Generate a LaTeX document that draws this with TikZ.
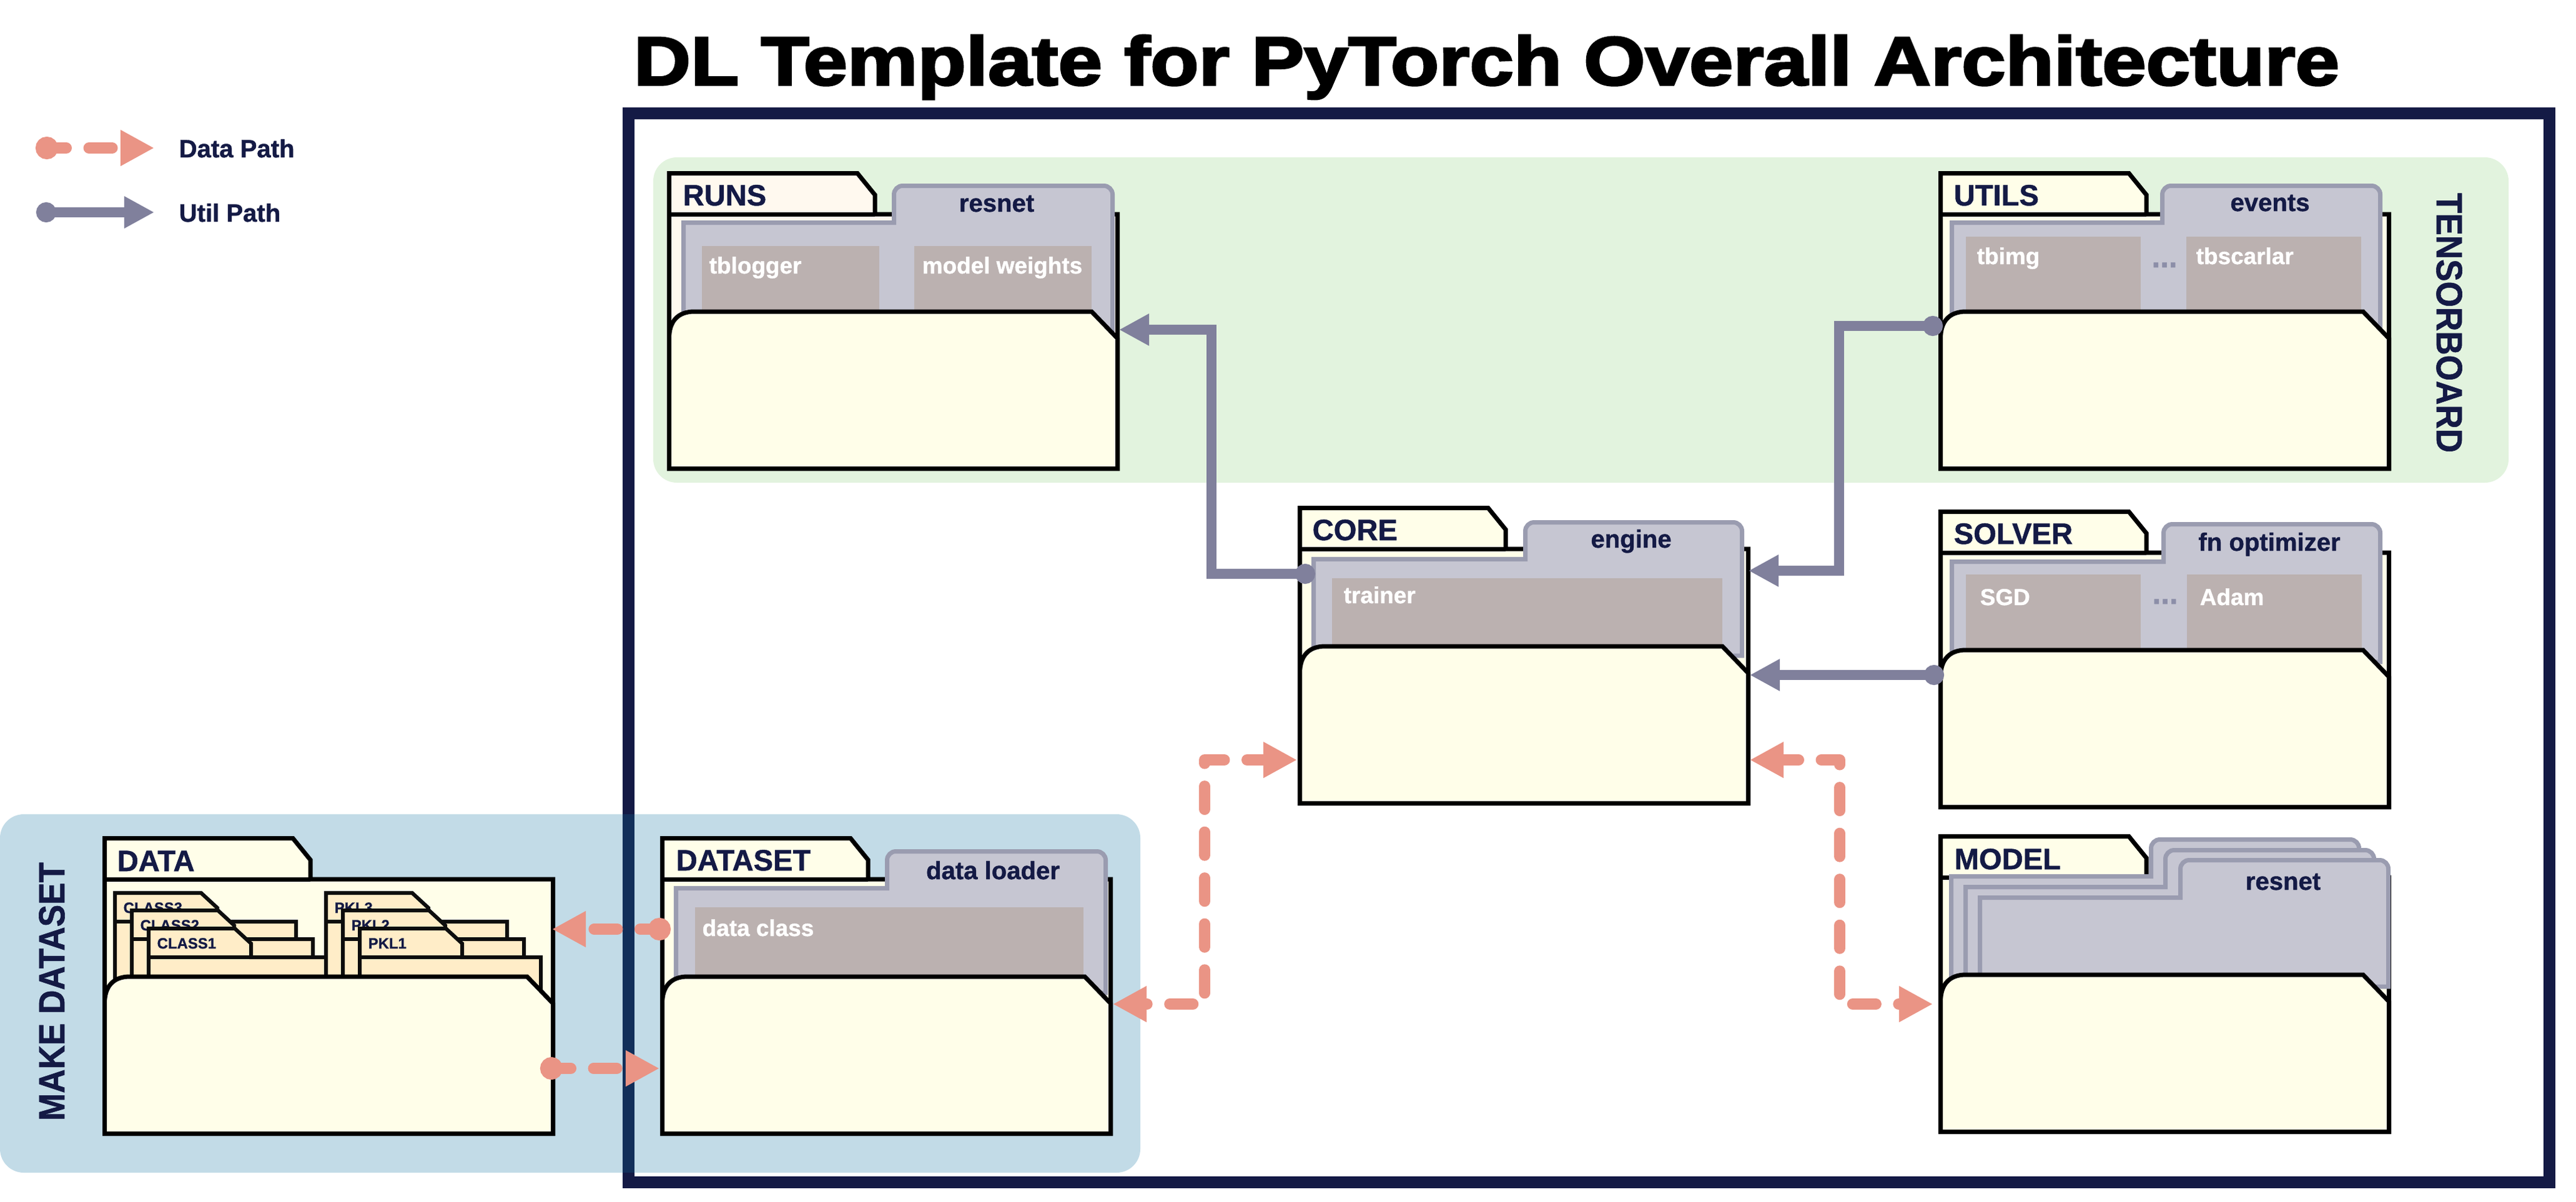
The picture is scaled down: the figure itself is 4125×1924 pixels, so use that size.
\documentclass[tikz,border=0pt]{standalone}
\usepackage{fontspec}
\setmainfont{Liberation Sans}[BoldFeatures={FakeBold=1}]
\newfontface\titlefont{Liberation Sans Bold}[FakeBold=3,FakeStretch=1.15]
\usetikzlibrary{arrows.meta}
\definecolor{navy}{HTML}{141A45}
\definecolor{navyover}{HTML}{122F5A}
\definecolor{paneblue}{HTML}{C2DBE7}
\definecolor{panegreen}{HTML}{E2F3DE}
\definecolor{pocketcol}{HTML}{FFFEE9}
\definecolor{runscol}{HTML}{FFF9EF}
\definecolor{subcol}{HTML}{FFEDC8}
\definecolor{sheetfill}{HTML}{C6C6D2}
\definecolor{sheetline}{HTML}{9A9CB0}
\definecolor{browncol}{HTML}{BBB1B0}
\definecolor{pinkcol}{HTML}{EA9485}
\definecolor{utilcol}{HTML}{80809C}
\definecolor{dotcol}{HTML}{8C8EA8}
\tikzset{
  folderline/.style={draw=black,line width=.07cm},
  sheet/.style={draw=sheetline,fill=sheetfill,line width=.07cm},
  brownbox/.style={fill=browncol},
  subline/.style={draw=black!95,fill=subcol,line width=.06cm},
  foldername/.style={anchor=base west,inner sep=0,text=navy,font=\fontsize{13.4}{16}\selectfont\bfseries},
  subname/.style={anchor=base west,inner sep=0,text=navy,font=\fontsize{6.8}{8}\selectfont\bfseries},
  sheetname/.style={anchor=base,inner sep=0,text=navy,font=\fontsize{11.4}{14}\selectfont\bfseries},
  itemname/.style={anchor=base west,inner sep=0,text=white,font=\fontsize{10.5}{13}\selectfont\bfseries},
  itemdots/.style={anchor=base,inner sep=0,text=dotcol,font=\fontsize{14}{16}\selectfont\bfseries},
  sidename/.style={inner sep=0,text=navy,xscale=1.1,font=\fontsize{15.1}{18}\selectfont\bfseries},
  legendname/.style={anchor=base west,inner sep=0,text=navy,font=\fontsize{11.4}{14}\selectfont\bfseries},
  utilpath/.style={draw=utilcol,line width=.16cm},
  datapath/.style={draw=pinkcol,line width=.18cm,line cap=round,line join=round,dash pattern=on .37cm off .365cm},
  utilboth/.style={{Circle[length=.32cm]}-{Triangle[length=.48cm,width=.48cm]}},
  databoth/.style={{Circle[length=.36cm]}-{Triangle[length=.54cm,width=.54cm]},dash phase=.15cm},
  datatwin/.style={{Triangle[length=.54cm,width=.54cm]}-{Triangle[length=.54cm,width=.54cm]},dash phase=.33cm},
}
\newcommand{\folderback}[3]{
\begin{scope}[shift={(#1,#2)}]
\draw[folderline,fill=#3](3.5,69)--(3.5,3.5)--(305,3.5)--(333,38)--(333,69)--(721.5,69)--(721.5,476.5)--(3.5,476.5)--cycle;
\draw[folderline](3.5,69)--(333,69);
\end{scope}}
\newcommand{\folderfront}[2]{
\begin{scope}[shift={(#1,#2)}]
\draw[folderline,fill=pocketcol](3.5,476.5)--(3.5,268)..controls(3.5,240)and(18,225)..(44,225)--(680,225)--(721.5,268)--(721.5,476.5)--cycle;
\end{scope}}
\newcommand{\sheetpage}[6]{
\draw[sheet](#1,#6)--(#1,#2)--(#3,#2)[rounded corners=.14cm]--(#3,#4)--(#5,#4)[sharp corners]--(#5,#6)--cycle;}
\newcommand{\subfolder}[4]{
\begin{scope}[shift={(#1,#2)}]
\draw[subline](3,170)--(3,3)--(141,3)--(167,27)--(167,49)--(293,49)--(293,170)--cycle;
\draw[subline](3,49)--(167,49);
\node[subname](#3)at(16,35){#4};
\end{scope}}
\begin{document}
\begin{tikzpicture}[x=.01cm,y=-.01cm]
\useasboundingbox(0,0)rectangle(4125,1924);
\fill[panegreen,rounded corners=.38cm](1046,252)rectangle(4017,773);
\fill[paneblue,rounded corners=.38cm](0,1304)rectangle(1826,1878);
\draw[navy,line width=.19cm](1006.5,181.5)rectangle(4082.5,1893.5);
\fill[navyover](997,1304)rectangle(1016,1878);
\node[anchor=base west,inner sep=0,font=\fontsize{31.3}{36}\titlefont](title)at(1014,136){DL Template for PyTorch Overall Architecture};
\node[sidename,rotate=90](makedataset)at(83,1588){MAKE DATASET};
\node[sidename,rotate=-90](tensorboard)at(3922,517){TENSORBOARD};
\folderback{1068}{274}{runscol}
\sheetpage{1094.5}{356.5}{1431.5}{297.5}{1781.5}{530}
\fill[brownbox](1124,394)rectangle(1408,510);
\fill[brownbox](1464,394)rectangle(1748,510);
\folderfront{1068}{274}
\node[foldername](runsname)at(1093,329){RUNS};
\node[sheetname](runssheet)at(1596,339){resnet};
\node[itemname](tblogger)at(1135,438){tblogger};
\node[itemname](weights)at(1476,438){model weights};
\folderback{3104}{274}{pocketcol}
\sheetpage{3125.5}{356.5}{3462.5}{297.5}{3811.5}{530}
\fill[brownbox](3148,379)rectangle(3428,510);
\fill[brownbox](3501,379)rectangle(3781,510);
\folderfront{3104}{274}
\node[foldername](utilsname)at(3128,329){UTILS};
\node[sheetname](utilssheet)at(3635,338){events};
\node[itemname](tbimg)at(3165,423){tbimg};
\node[itemname](tbscarlar)at(3516,423){tbscarlar};
\node[itemdots](utilsdots)at(3466,428){...};
\folderback{2078}{810}{pocketcol}
\sheetpage{2103.5}{895.5}{2442.5}{836.5}{2789.5}{1050}
\fill[brownbox](2133,926)rectangle(2758,1045);
\folderfront{2078}{810}
\node[foldername](corename)at(2101,865){CORE};
\node[sheetname](coresheet)at(2612,877){engine};
\node[itemname](trainer)at(2151,966){trainer};
\folderback{3104}{816}{pocketcol}
\sheetpage{3125.5}{899.5}{3464.5}{839.5}{3811.5}{1060}
\fill[brownbox](3148,920)rectangle(3428,1050);
\fill[brownbox](3502,920)rectangle(3782,1050);
\folderfront{3104}{816}
\node[foldername](solvername)at(3128,871){SOLVER};
\node[sheetname](solversheet)at(3634,882){fn optimizer};
\node[itemname](sgd)at(3170,969){SGD};
\node[itemname](adam)at(3522,969){Adam};
\node[itemdots](solverdots)at(3467,967){...};
\folderback{3104}{1336}{pocketcol}
\sheetpage{3124.5}{1403.5}{3444.5}{1344.5}{3777.5}{1580}
\sheetpage{3147.5}{1420.5}{3467.5}{1361.5}{3801.5}{1580}
\sheetpage{3170.5}{1437.5}{3491.5}{1377.5}{3824.5}{1580}
\folderfront{3104}{1336}
\node[foldername](modelname)at(3129,1392){MODEL};
\node[sheetname](modelsheet)at(3656,1425){resnet};
\folderback{1057}{1339}{pocketcol}
\sheetpage{1082.5}{1422.5}{1420.5}{1363.5}{1770.5}{1590}
\fill[brownbox](1113,1453)rectangle(1735,1575);
\folderfront{1057}{1339}
\node[foldername](datasetname)at(1082,1394){DATASET};
\node[sheetname](datasetsheet)at(1590,1408){data loader};
\node[itemname](dataclass)at(1124,1499){data class};
\folderback{164}{1339}{pocketcol}
\subfolder{181}{1427}{classc}{CLASS3}
\subfolder{208}{1455}{classb}{CLASS2}
\subfolder{235}{1484}{classa}{CLASS1}
\subfolder{519}{1427}{pklc}{PKL3}
\subfolder{546}{1455}{pklb}{PKL2}
\subfolder{573}{1484}{pkla}{PKL1}
\folderfront{164}{1339}
\node[foldername](dataname)at(187,1395){DATA};
\coordinate(legdatastart)at(57,237);
\coordinate(legdataend)at(247,237);
\coordinate(legutilstart)at(58,340);
\coordinate(legutilend)at(247,340);
\draw[datapath,databoth](legdatastart)--(legdataend);
\draw[utilpath,utilboth](legutilstart)--(legutilend);
\node[legendname](legdata)at(286,252){Data Path};
\node[legendname](legutil)at(286,355){Util Path};
\coordinate(coreout)at(2106,919);
\coordinate(runsin)at(1792,528);
\coordinate(runsbend)at(1940,528);
\draw[utilpath,utilboth](coreout)-|(runsbend)--(runsin);
\coordinate(utilsout)at(3111,522);
\coordinate(corein)at(2800,914);
\coordinate(utilsbend)at(2945,914);
\draw[utilpath,utilboth](utilsout)-|(utilsbend)--(corein);
\coordinate(solverout)at(3113,1081);
\coordinate(coreinb)at(2802,1081);
\draw[utilpath,utilboth](solverout)--(coreinb);
\coordinate(datasetout)at(1074,1488);
\coordinate(datain)at(884,1488);
\draw[datapath,databoth](datasetout)--(datain);
\coordinate(dataout)at(865,1711);
\coordinate(datasetin)at(1056,1711);
\draw[datapath,databoth](dataout)--(datasetin);
\coordinate(datasetport)at(1782,1608);
\coordinate(coreleft)at(2077,1217);
\coordinate(leftbend)at(1929,1217);
\draw[datapath,datatwin](datasetport)-|(leftbend)--(coreleft);
\coordinate(modelport)at(3095,1608);
\coordinate(coreright)at(2802,1217);
\coordinate(rightbend)at(2946,1217);
\draw[datapath,datatwin](modelport)-|(rightbend)--(coreright);
\end{tikzpicture}
\end{document}
